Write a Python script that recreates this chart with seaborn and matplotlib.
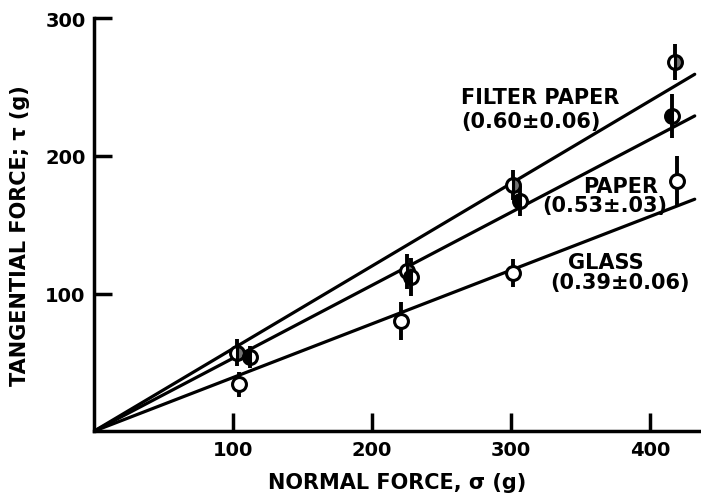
import pandas as pd
import matplotlib
matplotlib.use("Agg")
import matplotlib.pyplot as plt
import seaborn as sns

# Data
surfaces = ["FILTER PAPER", "PAPER", "GLASS"]
coef_labels = ["(0.60\u00b10.06)", "(0.53\u00b1.03)", "(0.39\u00b10.06)"]
slopes = [0.60, 0.53, 0.39]
fit_range = [0, 432]

fp_sigma = [103, 225, 301, 418]
fp_tau = [57, 116, 179, 268]
fp_err = [10, 13, 11, 13]

paper_sigma = [112, 228, 306, 416]
paper_tau = [54, 112, 167, 229]
paper_err = [8, 14, 11, 16]

glass_sigma = [104, 221, 301, 419]
glass_tau = [34, 80, 115, 182]
glass_err = [9, 14, 10, 18]

x_ticks = [100, 200, 300, 400]
y_ticks = [100, 200, 300]

# Fit lines table
fit_rows = []
for name, m in zip(surfaces, slopes):
    for s in fit_range:
        fit_rows.append({"Surface": name, "sigma": s, "tau": m * s})
fit_df = pd.DataFrame(fit_rows)

sns.set_style("ticks")
plt.rcParams['font.family'] = ['DejaVu Sans']
plt.rcParams['font.weight'] = 'bold'
for key in ['text.color', 'axes.labelcolor', 'xtick.color', 'ytick.color', 'axes.edgecolor']:
    plt.rcParams[key] = 'black'

fig = plt.figure(figsize=(7.01, 5.02), dpi=100)
ax = fig.add_axes([0.134, 0.139, 0.865, 0.823])

sns.lineplot(data=fit_df, x="sigma", y="tau", hue="Surface",
             palette=["black"] * 3, linewidth=2.3, legend=False, ax=ax)

point_sets = [
    (fp_sigma, fp_tau, fp_err, "right", "0.45"),
    (paper_sigma, paper_tau, paper_err, "left", "black"),
    (glass_sigma, glass_tau, glass_err, "full", "white"),
]
for sig, tau, err, fill, face in point_sets:
    ax.errorbar(sig, tau, yerr=err, fmt="none", ecolor="black",
                elinewidth=2.8, capsize=0, zorder=3)
    ax.plot(sig, tau, linestyle="none", marker="o", markersize=10,
            markeredgewidth=2.2, markeredgecolor="black",
            markerfacecolor=face, markerfacecoloralt="white",
            fillstyle=fill, zorder=4)

# Annotations
txt = dict(ha="center", va="center", fontsize=15, fontweight="bold")
ax.text(321, 243, surfaces[0], **txt)
ax.text(314, 225, coef_labels[0], **txt)
ax.text(379, 178, surfaces[1], **txt)
ax.text(367, 164, coef_labels[1], **txt)
ax.text(368, 123, surfaces[2], **txt)
ax.text(378, 108, coef_labels[2], **txt)

ax.set_xlim(0, 436)
ax.set_ylim(0, 300)
ax.set_xticks(x_ticks)
ax.set_yticks(y_ticks)
ax.tick_params(direction="in", length=13, width=2.5, labelsize=14, pad=6)
for lab in ax.get_xticklabels() + ax.get_yticklabels():
    lab.set_fontweight("bold")

sns.despine(ax=ax)
ax.spines["left"].set_linewidth(2.5)
ax.spines["bottom"].set_linewidth(2.5)

ax.set_xlabel("NORMAL FORCE, \u03c3 (g)", fontsize=15, fontweight="bold", labelpad=10)
ax.set_ylabel("TANGENTIAL FORCE; \u03c4 (g)", fontsize=15, fontweight="bold")
ax.yaxis.set_label_coords(-0.105, 0.475)

fig.savefig("out.png", dpi=100)
